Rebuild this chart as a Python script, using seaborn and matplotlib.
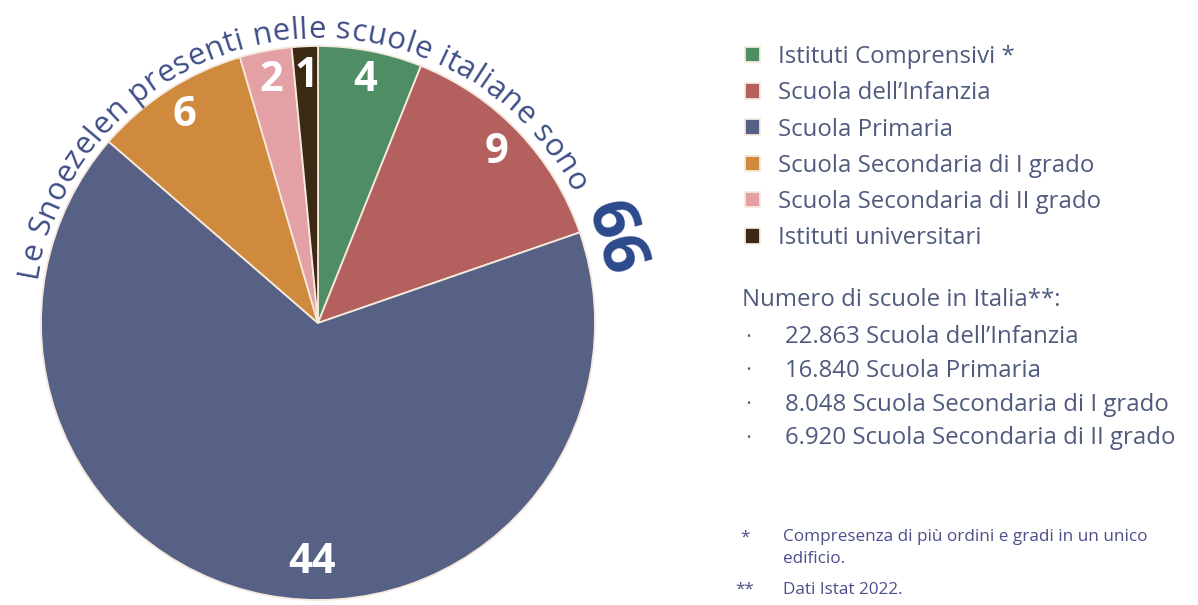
import numpy as np
import matplotlib
matplotlib.use("Agg")
import matplotlib.pyplot as plt
import seaborn as sns
from matplotlib.font_manager import FontProperties

# ---------------- data ----------------
categories = ["Istituti Comprensivi *", "Scuola dell\u2019Infanzia", "Scuola Primaria",
              "Scuola Secondaria di I grado", "Scuola Secondaria di II grado",
              "Istituti universitari"]
values = [4, 9, 44, 6, 2, 1]
colors = ["#4f8d65", "#b4605f", "#576186", "#d08a3e", "#e3a0a5", "#3b2914"]
arc_title = "Le Snoezelen presenti nelle scuole italiane sono"
total_label = "66"
info_title = "Numero di scuole in Italia**:"
info_lines = ["22.863 Scuola dell\u2019Infanzia", "16.840 Scuola Primaria",
              "8.048 Scuola Secondaria di I grado", "6.920 Scuola Secondaria di II grado"]
note_marks = ["*", "**"]
note_texts = ["Compresenza di pi\u00f9 ordini e gradi in un unico\nedificio.", "Dati Istat 2022."]

# ---------------- style ----------------
sns.set_theme(style="white")
FONT = "Open Sans"
plt.rcParams["font.family"] = [FONT, "DejaVu Sans"]
W, H, DPI = 1198, 605, 100
TXT = "#4f5a7e"
ARC_COL = "#3e4e86"
BIG = 17.3

fig = plt.figure(figsize=(W / DPI, H / DPI), dpi=DPI)
fig.patch.set_facecolor("white")

# pie axes: centre (318, 323) px, radius 277 px
cx, cy, R = 318, 323, 277
L = 1.2
ax = fig.add_axes([(cx - L * R) / W, (H - cy - L * R) / H, 2 * L * R / W, 2 * L * R / H])
total = sum(values)
wedges, texts, autotexts = ax.pie(
    values, colors=colors, startangle=90, counterclock=False, radius=1.0,
    autopct=lambda p: f"{round(p * total / 100)}", pctdistance=0.89,
    wedgeprops=dict(edgecolor="#f4e9dc", linewidth=1.3),
    textprops=dict(color="white", fontsize=30, fontweight="bold", family=FONT))
for t in autotexts:
    t.set_va("center")
    t.set_ha("center")
# the big slice label sits low in the slice
ang = np.deg2rad(-91.5)
autotexts[2].set_position((0.865 * np.cos(ang), 0.865 * np.sin(ang)))
ax.set_xlim(-L, L)
ax.set_ylim(-L, L)
ax.set_aspect("equal")
ax.axis("off")

# ---------------- curved title ----------------
arc_fs = 22.5
fp = FontProperties(family=FONT, size=arc_fs)
renderer = fig.canvas.get_renderer()
def w(s):
    return renderer.get_text_width_height_descent(s, fp, ismath=False)[0]
base = w("||")
advs = [w("|" + ch + "|") - base for ch in arc_title]
r_base_px = 285
start_deg, end_deg = 171.0, 27.0
target = np.deg2rad(start_deg - end_deg) * r_base_px
extra = (target - sum(advs)) / (len(advs) - 1)
s = 0.0
for ch, a in zip(arc_title, advs):
    sc = s + a / 2
    th = np.deg2rad(start_deg) - sc / r_base_px
    rr = r_base_px / R
    ax.text(rr * np.cos(th), rr * np.sin(th), ch, fontproperties=fp, color=ARC_COL,
            rotation=np.rad2deg(th) - 90, rotation_mode="anchor",
            ha="center", va="baseline", clip_on=False)
    s += a + extra

th66 = np.deg2rad(16.0)
ax.text(1.105 * np.cos(th66), 1.105 * np.sin(th66), total_label, fontsize=47,
        fontweight="bold", color="#2c4a8c", family=FONT,
        rotation=np.rad2deg(th66) - 90, rotation_mode="anchor",
        ha="center", va="center", clip_on=False)

# ---------------- legend ----------------
fig.legend(wedges, categories, loc="upper left",
           bbox_to_anchor=(745 / W, 1 - 45 / H), frameon=False,
           prop=FontProperties(family=FONT, size=BIG), labelcolor=TXT,
           handlelength=0.62, handleheight=0.62, handletextpad=0.75,
           labelspacing=0.51, borderaxespad=0, borderpad=0)

# ---------------- info block ----------------
fig.text(742 / W, 1 - 300 / H, info_title, fontsize=BIG, color=TXT, va="center", ha="left")
for i, line in enumerate(info_lines):
    y = 337 + i * 33.8
    fig.text(748 / W, 1 - y / H, "\u2022", fontsize=8, color=TXT, va="center", ha="center")
    fig.text(785 / W, 1 - y / H, line, fontsize=BIG, color=TXT, va="center", ha="left")

# ---------------- footnotes ----------------
NOTE = "#4b4f8a"
NFS = 12.3
fig.text(745 / W, 1 - 538 / H, note_marks[0], fontsize=NFS, color=NOTE, va="center", ha="center")
fig.text(783 / W, 1 - 529 / H, note_texts[0], fontsize=NFS, color=NOTE, va="top", ha="left",
         linespacing=1.5)
fig.text(745 / W, 1 - 590 / H, note_marks[1], fontsize=NFS, color=NOTE, va="center", ha="center")
fig.text(783 / W, 1 - 590 / H, note_texts[1], fontsize=NFS, color=NOTE, va="center", ha="left")

fig.savefig("out.png", dpi=DPI, facecolor="white")
